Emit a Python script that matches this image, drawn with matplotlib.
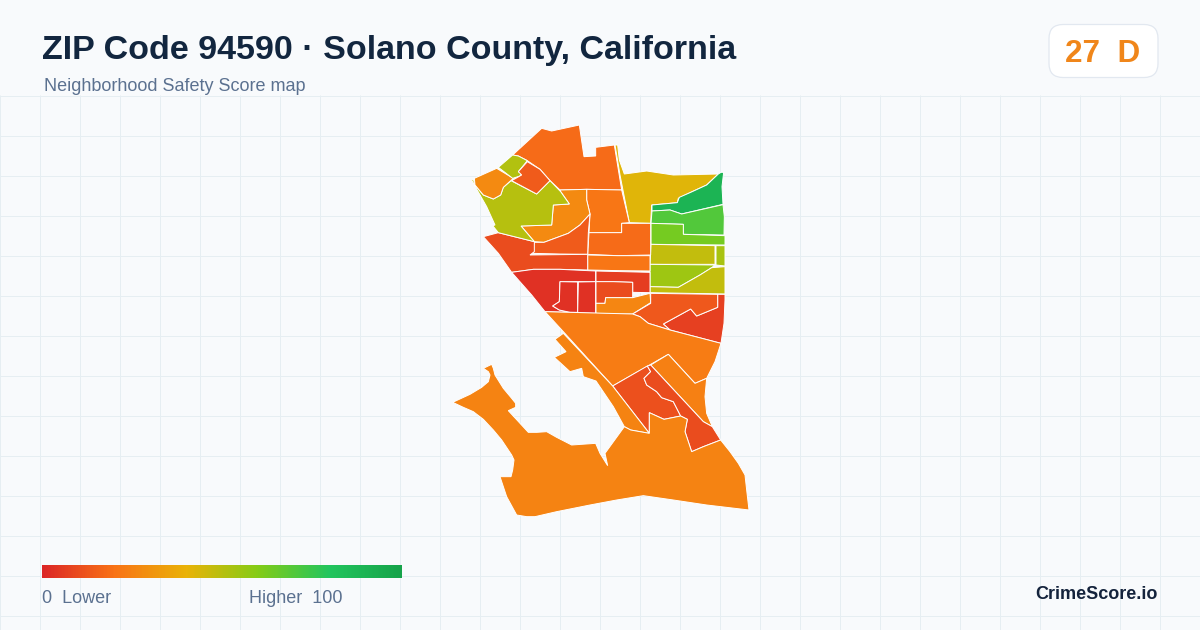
import matplotlib
matplotlib.use('Agg')
import matplotlib.pyplot as plt
import numpy as np
from matplotlib.colors import LinearSegmentedColormap
from matplotlib.patches import FancyBboxPatch, Polygon

plt.rcParams['font.family'] = ['Liberation Sans', 'DejaVu Sans']

TITLE = 'ZIP Code 94590 · Solano County, California'
SUBTITLE = 'Neighborhood Safety Score map'
BADGE = '27  D'
BRAND = 'CrimeScore.io'

# score scale of the legend
SCALE_POS = [0.0, 0.2, 0.4, 0.6, 0.8, 1.0]
SCALE_COLORS = ['#dc2626', '#f97316', '#eab308', '#84cc16', '#22c55e', '#16a34a']

# tracts: (score, outline), outline in map units
TRACTS = [
    (18, [(218,135),(305,55),(335,63),(418,45),(432,140),(467,138),(467,112),(523,105),(545,240),(440,238),(360,240),(330,212),(300,178),(262,152),(235,138)]),
    (42, [(525,105),(533,105),(538,150),(553,192),(620,183),(700,195),(835,192),(800,225),(750,248),(715,265),(712,278),(635,285),(632,340),(568,338),(540,195)]),
    (90, [(835,192),(843,187),(851,187),(846,230),(849,283),(725,312),(690,300),(636,303),(636,285),(712,278),(718,262),(750,248),(800,225)]),
    (70, [(636,303),(690,300),(725,312),(849,284),(853,320),(852,375),(730,373),(730,343),(633,340)]),
    (63, [(633,340),(730,343),(730,373),(855,377),(855,405),(633,403)]),
    (48, [(633,403),(825,407),(825,463),(630,463)]),
    (53, [(828,407),(855,407),(855,468),(828,465)]),
    (55, [(630,463),(825,465),(815,473),(780,495),(715,532),(630,530)]),
    (48, [(815,473),(855,470),(855,552),(630,548),(630,530),(715,532),(780,495)]),
    (21, [(440,238),(545,240),(568,338),(545,340),(545,368),(447,368),(450,312),(440,270)]),
    (18, [(447,368),(545,368),(545,340),(632,340),(632,435),(533,437),(443,433)]),
    (21, [(443,435),(533,437),(630,437),(630,483),(540,482),(443,480)]),
    (27, [(360,240),(440,238),(440,270),(450,312),(420,345),(385,370),(312,397),(283,395),(243,348),(335,345),(340,285),(388,282),(362,245)]),
    (14, [(450,312),(445,368),(443,433),(360,432),(275,430),(283,397),(312,397),(385,370),(420,345)]),
    (10, [(130,380),(175,368),(283,395),(283,425),(270,435),(443,433),(443,480),(360,478),(280,478),(215,487),(175,430)]),
    (3, [(215,487),(280,478),(360,478),(467,483),(467,515),(360,515),(358,575),(338,588),(358,600),(390,607),(315,605),(275,555)]),
    (3, [(360,515),(413,516),(413,607),(390,607),(358,600),(338,588),(358,575)]),
    (3, [(415,516),(467,515),(467,610),(413,608)]),
    (6, [(468,483),(630,487),(630,548),(578,547),(578,517),(520,515),(468,515)]),
    (10, [(468,515),(520,515),(578,517),(578,563),(497,563),(495,580),(468,580)]),
    (26, [(468,580),(495,580),(497,563),(578,563),(630,550),(632,578),(605,595),(578,612),(520,612),(468,610)]),
    (7, [(670,642),(752,597),(770,618),(833,592),(833,553),(855,553),(855,570),(852,640),(843,700),(690,660)]),
    (13, [(632,550),(833,553),(833,592),(770,618),(752,597),(670,642),(690,660),(625,640),(600,620),(578,612),(632,580)]),
    (23, [(315,605),(578,612),(600,620),(625,640),(690,660),(843,700),(825,755),(800,805),(765,820),(685,733),(518,828),(370,665)]),
    (24, [(685,733),(765,820),(800,805),(795,860),(800,910),(817,950),(790,935),(632,765)]),
    (11, [(518,828),(622,768),(632,785),(612,805),(620,825),(650,845),(665,863),(700,875),(722,918),(672,928),(628,908),(628,970)]),
    (10, [(622,768),(632,765),(790,935),(817,950),(842,990),(790,1010),(755,1025),(735,965),(742,928),(722,918),(700,875),(665,863),(650,845),(620,825),(612,805),(632,785)]),
    (25, [(345,688),(370,670),(518,828),(628,970),(572,960),(553,950),(520,890),(468,813),(430,800),(425,775),(390,785),(343,742),(378,725)]),
    (25, [(572,960),(628,970),(628,908),(672,928),(722,918),(742,928),(735,965),(755,1025),(790,1010),(842,990),(870,1025),(895,1060),(915,1095),(920,1140),(927,1200),(800,1185),(700,1170),(610,1157),(530,1170),(450,1185),(350,1205),(285,1220),(260,1220),(230,1215),(200,1160),(180,1100),(213,1100),(218,1080),(222,1050),(215,1035),(185,990),(160,960),(130,928),(100,905),(70,892),(38,877),(90,853),(125,832),(145,815),(150,795),(145,785),(130,775),(155,763),(160,775),(165,795),(190,835),(215,865),(227,880),(227,892),(205,902),(265,967),(290,967),(320,965),(350,982),(395,1005),(467,1000),(480,1030),(503,1067),(495,1030),(553,950)]),
    (50, [(95,210),(100,207),(105,225),(130,255),(160,267),(182,255),(190,232),(213,212),(290,252),(330,212),(362,245),(388,282),(340,285),(335,345),(243,348),(283,395),(175,368),(158,347),(165,345),(140,290),(103,225)]),
    (27, [(103,205),(170,175),(220,205),(190,232),(182,255),(160,267),(130,255),(105,225)]),
    (51, [(175,172),(218,135),(235,138),(262,152),(235,185),(245,190),(240,198),(218,205)]),
    (14, [(262,155),(300,178),(330,212),(290,252),(215,212),(245,195),(235,185)]),
]

W, H = 1200, 630
BG = '#f8fafc'
GRID = '#e6eef2'

cmap = LinearSegmentedColormap.from_list('score', list(zip(SCALE_POS, SCALE_COLORS)))

fig = plt.figure(figsize=(W / 100, H / 100), dpi=100, facecolor=BG)

# page layer in pixels
ax = fig.add_axes([0, 0, 1, 1])
ax.set_xlim(0, W)
ax.set_ylim(H, 0)
ax.axis('off')

for x in range(0, W + 1, 40):
    ax.plot([x + 0.5, x + 0.5], [96, H], color=GRID, lw=0.72, zorder=1, snap=False)
for y in range(96, H, 40):
    ax.plot([0, W], [y + 0.5, y + 0.5], color=GRID, lw=0.72, zorder=1, snap=False)

ax.text(42, 59, TITLE, fontsize=24.5, fontweight='bold', color='#12263f')
ax.text(44, 91, SUBTITLE, fontsize=13, color='#5b7190')

ax.add_patch(FancyBboxPatch((1049 + 14, 24.5 + 14), 109 - 28, 53 - 28,
                            boxstyle='round,pad=14,rounding_size=14',
                            fc='white', ec='#e2e8f0', lw=0.9, zorder=2))
ax.text(1103, 62, BADGE, fontsize=22.7, fontweight='bold', color='#f0861a',
        ha='center', zorder=3)

gradient = np.linspace(0, 1, 360).reshape(1, -1)
ax.imshow(gradient, cmap=cmap, extent=[42, 402, 578, 565], aspect='auto', zorder=2)
ax.set_xlim(0, W)
ax.set_ylim(H, 0)
ax.text(42, 603, '0  Lower', fontsize=13, color='#5b7190')
ax.text(249, 603, 'Higher  100', fontsize=13, color='#5b7190')
ax.text(1158, 599, BRAND, fontsize=13, fontweight='bold', color='#14233c', ha='right')

# map layer, its units are a third of a pixel
mp = fig.add_axes([0, 0, 1, 1])
mp.set_xlim(-1320, 2280)
mp.set_ylim(1560, -330)
mp.axis('off')
mp.patch.set_alpha(0)

for score, outline in TRACTS:
    mp.add_patch(Polygon(outline, closed=True, fc=cmap(score / 100.0), ec='white', lw=0.7))

fig.savefig('out.png', dpi=100, facecolor=BG)
